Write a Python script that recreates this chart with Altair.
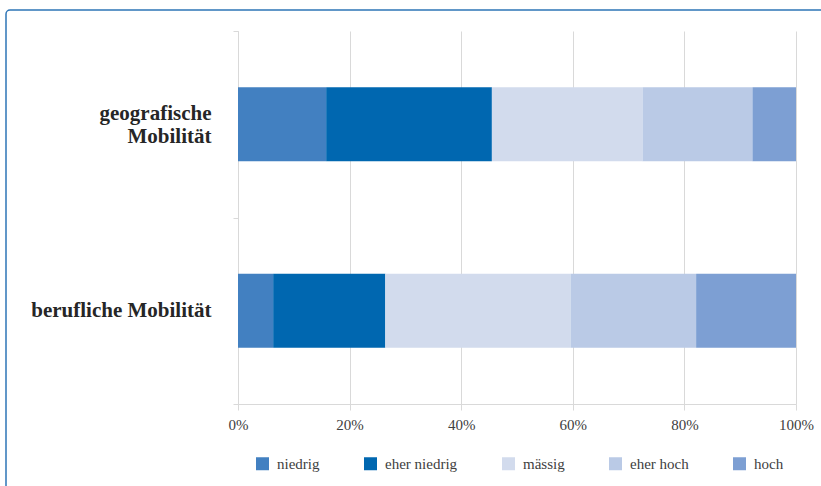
import altair as alt
import pandas as pd

categories = ["geografische Mobilität", "berufliche Mobilität"]
levels = ["niedrig", "eher niedrig", "mässig", "eher hoch", "hoch"]
geo_values = [15.8, 29.7, 27.0, 19.7, 7.8]
beruf_values = [6.3, 20.1, 33.2, 22.5, 17.9]
colors = ["#4280C1", "#0067B0", "#D2DBED", "#BACAE6", "#7D9FD3"]

rows = []
for cat, vals in zip(categories, [geo_values, beruf_values]):
    for i, (lvl, v) in enumerate(zip(levels, vals)):
        rows.append({"Kategorie": cat, "Stufe": lvl, "Wert": v, "ord": i})
df = pd.DataFrame(rows)

FONT = "Liberation Serif"

bars = alt.Chart(df).mark_bar(size=74).encode(
    y=alt.Y("Kategorie:N", sort=categories,
            scale=alt.Scale(paddingInner=0, paddingOuter=0),
            axis=alt.Axis(title=None, tickBand="extent",
                          labelExpr="datum.value == 'geografische Mobilität' ? ['geografische', 'Mobilität'] : datum.value",
                          labelOffset={"condition": {"test": "datum.value == 'geografische Mobilität'", "value": -11}, "value": 0},
                          labelFont=FONT, labelFontSize=21, labelFontWeight="bold",
                          labelColor="#262626", labelPadding=22, labelLimit=300,
                          domainColor="#d9d9d9", tickColor="#d9d9d9", tickSize=5,
                          labelLineHeight=23)),
    x=alt.X("Wert:Q", stack="normalize",
            scale=alt.Scale(domain=[0, 1]),
            axis=alt.Axis(title=None, format=".0%", values=[0, 0.2, 0.4, 0.6, 0.8, 1.0],
                          labelFont=FONT, labelFontSize=15, labelColor="#404040",
                          labelFlush=False, labelPadding=7,
                          gridColor="#d9d9d9", domainColor="#d9d9d9",
                          tickColor="#d9d9d9", tickSize=6)),
    color=alt.Color("Stufe:N", sort=levels,
                    scale=alt.Scale(domain=levels, range=colors),
                    legend=alt.Legend(title=None, orient="none", direction="horizontal",
                                      legendX=17, legendY=425, symbolType="square",
                                      symbolSize=169, symbolStrokeWidth=0,
                                      labelFont=FONT, labelFontSize=15,
                                      labelColor="#404040", columnPadding=43,
                                      symbolOffset=0, labelOffset=7)),
    order=alt.Order("ord:Q"),
)

border = alt.Chart(pd.DataFrame({"a": [0]})).mark_rect(
    fill=None, stroke="#2E75B6", strokeWidth=1.5, cornerRadius=4
).encode(
    x=alt.value(-232), x2=alt.value(600), y=alt.value(-21), y2=alt.value(500)
)

chart = alt.layer(border, bars).properties(
    width=558, height=373,
    autosize=alt.AutoSizeParams(type="none"),
    padding={"left": 238, "top": 31, "right": 25, "bottom": 82},
    background="white",
).configure_view(strokeWidth=0)

chart.save("out.html", embed_options={"renderer": "svg", "actions": False})
